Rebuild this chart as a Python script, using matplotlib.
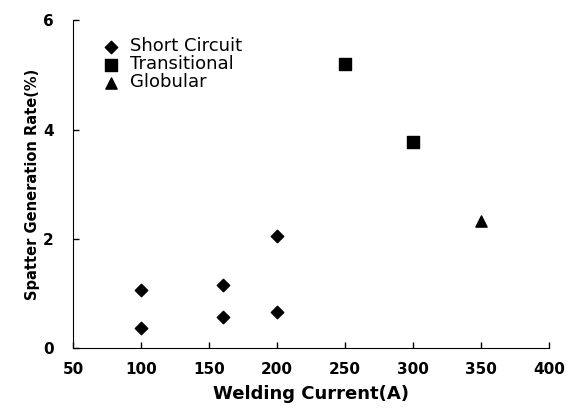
import matplotlib
matplotlib.use("Agg")
import matplotlib.pyplot as plt

# Spatter generation rate vs welding current, by transfer mode
short_current = [100, 100, 160, 160, 200, 200]
short_rate = [1.06, 0.36, 1.15, 0.57, 2.05, 0.66]
trans_current = [250, 300]
trans_rate = [5.2, 3.77]
glob_current = [350]
glob_rate = [2.32]

x_ticks = [50, 100, 150, 200, 250, 300, 350, 400]
y_ticks = [0, 2, 4, 6]

fig = plt.figure(figsize=(5.79, 4.12), dpi=100)
ax = fig.add_axes([0.126, 0.155, 0.822, 0.796])

ax.scatter(short_current, short_rate, marker="D", s=40, c="black", label="Short Circuit")
ax.scatter(trans_current, trans_rate, marker="s", s=65, c="black", label="Transitional")
ax.scatter(glob_current, glob_rate, marker="^", s=65, c="black", label="Globular")

ax.set_xlim(50, 400)
ax.set_ylim(0, 6)
ax.set_xticks(x_ticks)
ax.set_yticks(y_ticks)
ax.tick_params(direction="in", length=4, width=1, labelsize=11)
for lbl in ax.get_xticklabels() + ax.get_yticklabels():
    lbl.set_fontweight("bold")
ax.tick_params(axis="x", pad=10)
ax.tick_params(axis="y", pad=14)

ax.spines["top"].set_visible(False)
ax.spines["right"].set_visible(False)

ax.set_xlabel("Welding Current(A)", fontsize=13, fontweight="bold", labelpad=6)
ax.set_ylabel("Spatter Generation Rate(%)", fontsize=10.5, fontweight="bold", labelpad=2)

ax.legend(loc="upper left", bbox_to_anchor=(0.045, 0.97), frameon=False,
          fontsize=13, handletextpad=0.6, labelspacing=0.0, borderaxespad=0,
          handlelength=1.0)

fig.savefig("out.png", dpi=100)
